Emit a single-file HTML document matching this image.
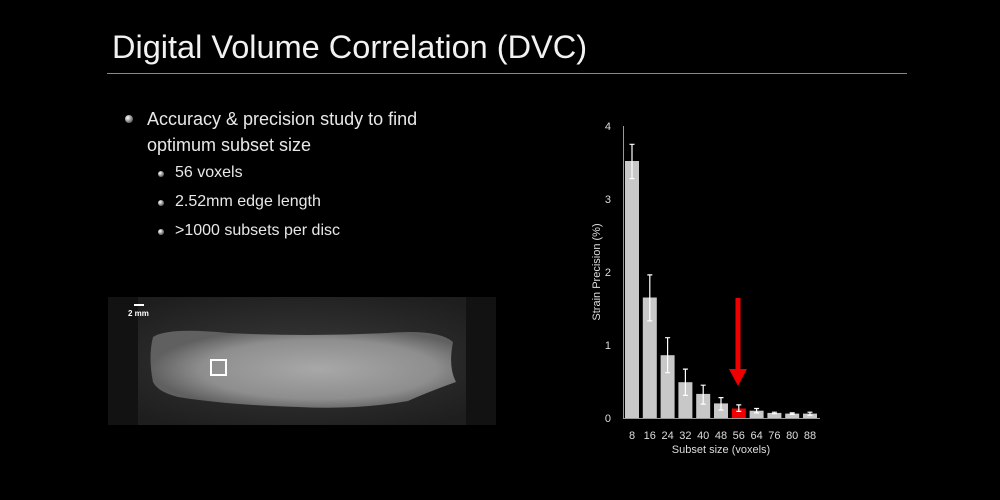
<!DOCTYPE html>
<html><head><style>
body{margin:0;width:1000px;height:500px;background:#000;overflow:hidden;font-family:"Liberation Sans",sans-serif;color:#fff;position:relative}
.t{position:absolute;left:112px;top:29px;font-size:32.5px;color:#f2f2f2}
.hr{position:absolute;left:107px;top:73px;width:800px;height:1px;background:#888}
.b{position:absolute;font-size:18px;color:#e8e8e8}
.s{position:absolute;font-size:16px;color:#e8e8e8}
.dot{position:absolute;border-radius:50%;background:radial-gradient(circle at 35% 35%,#fff,#777 60%,#333)}
</style></head><body>
<div class="t">Digital Volume Correlation (DVC)</div>
<div class="hr"></div>
<div class="dot" style="left:125px;top:115px;width:8px;height:8px"></div>
<div class="b" style="left:147px;top:106px;line-height:26px">Accuracy &amp; precision study to find<br>optimum subset size</div>
<div class="dot" style="left:158px;top:171px;width:6px;height:6px"></div>
<div class="s" style="left:175px;top:164px">56 voxels</div>
<div class="dot" style="left:158px;top:200px;width:6px;height:6px"></div>
<div class="s" style="left:175px;top:193px">2.52mm edge length</div>
<div class="dot" style="left:158px;top:229px;width:6px;height:6px"></div>
<div class="s" style="left:175px;top:222px">&gt;1000 subsets per disc</div>

<svg style="position:absolute;left:108px;top:297px" width="388" height="128">
<defs>
<radialGradient id="bg" cx="50%" cy="50%" r="60%"><stop offset="0" stop-color="#3a3a3a"/><stop offset="1" stop-color="#1e1e1e"/></radialGradient>
<radialGradient id="disc" cx="55%" cy="50%" r="55%"><stop offset="0" stop-color="#a8a8a8"/><stop offset="0.7" stop-color="#8e8e8e"/><stop offset="1" stop-color="#606060"/></radialGradient>
</defs>
<rect width="388" height="128" fill="url(#bg)"/>
<rect x="0" y="0" width="30" height="128" fill="#121212"/>
<rect x="358" y="0" width="30" height="128" fill="#121212"/>
<path d="M45 40 Q60 30 120 36 Q200 40 280 36 Q330 32 345 45 Q340 70 348 85 Q320 95 300 104 Q250 113 190 110 Q120 108 70 100 Q50 95 45 85 Q40 60 45 40Z" fill="url(#disc)"/>
<rect x="103" y="63" width="15" height="15" fill="none" stroke="#fff" stroke-width="2"/>
<rect x="26" y="7" width="10" height="2" fill="#fff"/>
<text x="20" y="19" font-size="8" font-weight="bold" fill="#fff">2 mm</text>
</svg>

<svg style="position:absolute;left:0;top:0" width="1000" height="500" font-family="Liberation Sans,sans-serif">
<line x1="623.5" y1="126" x2="623.5" y2="418" stroke="#999"/>
<line x1="623" y1="418.5" x2="820" y2="418.5" stroke="#999"/>
<g fill="#ddd" font-size="11" text-anchor="end">
<text x="611" y="422">0</text><text x="611" y="349">1</text><text x="611" y="276">2</text><text x="611" y="203">3</text><text x="611" y="130">4</text>
</g>
<text transform="translate(600,272) rotate(-90)" font-size="11" fill="#ddd" text-anchor="middle">Strain Precision (%)</text>
<g fill="#c8c8c8">
<rect x="625" y="161" width="14" height="257"/>
<rect x="642.8" y="297.5" width="14" height="120.5"/>
<rect x="660.6" y="355.2" width="14" height="62.8"/>
<rect x="678.4" y="382.2" width="14" height="35.8"/>
<rect x="696.2" y="393.9" width="14" height="24.1"/>
<rect x="714" y="403.4" width="14" height="14.6"/>
<rect x="731.8" y="408.5" width="14" height="9.5" fill="#e00"/>
<rect x="749.6" y="410.7" width="14" height="7.3"/>
<rect x="767.4" y="412.9" width="14" height="5.1"/>
<rect x="785.2" y="413.6" width="14" height="4.4"/>
<rect x="803" y="413.6" width="14" height="4.4"/>
</g>
<g stroke="#fff" stroke-width="1.2" fill="none">
<path d="M632 178.6V144.3M629.5 178.6h5M629.5 144.3h5"/>
<path d="M649.8 320.9V274.9M647.3 320.9h5M647.3 274.9h5"/>
<path d="M667.6 372.7V337.7M665.1 372.7h5M665.1 337.7h5"/>
<path d="M685.4 395.4V369.1M682.9 395.4h5M682.9 369.1h5"/>
<path d="M703.2 404.1V385.2M700.7 404.1h5M700.7 385.2h5"/>
<path d="M721 410V397.6M718.5 410h5M718.5 397.6h5"/>
<path d="M738.8 411.4V404.9M736.3 411.4h5M736.3 404.9h5"/>
<path d="M756.6 412.9V408.5M754.1 412.9h5M754.1 408.5h5"/>
<path d="M774.4 413.6V412.2M771.9 413.6h5M771.9 412.2h5"/>
<path d="M792.2 414.4V412.9M789.7 414.4h5M789.7 412.9h5"/>
<path d="M810 415.1V412.2M807.5 415.1h5M807.5 412.2h5"/>
</g>
<g fill="#ddd" font-size="11" text-anchor="middle">
<text x="632" y="439">8</text><text x="649.8" y="439">16</text><text x="667.6" y="439">24</text><text x="685.4" y="439">32</text><text x="703.2" y="439">40</text><text x="721" y="439">48</text><text x="738.8" y="439">56</text><text x="756.6" y="439">64</text><text x="774.4" y="439">76</text><text x="792.2" y="439">80</text><text x="810" y="439">88</text>
</g>
<text x="721" y="453" font-size="11" fill="#ddd" text-anchor="middle">Subset size (voxels)</text>
<rect x="735.5" y="298" width="5" height="72" fill="#e00"/>
<polygon points="729,369 747,369 738,386" fill="#e00"/>
</svg>
</body></html>
